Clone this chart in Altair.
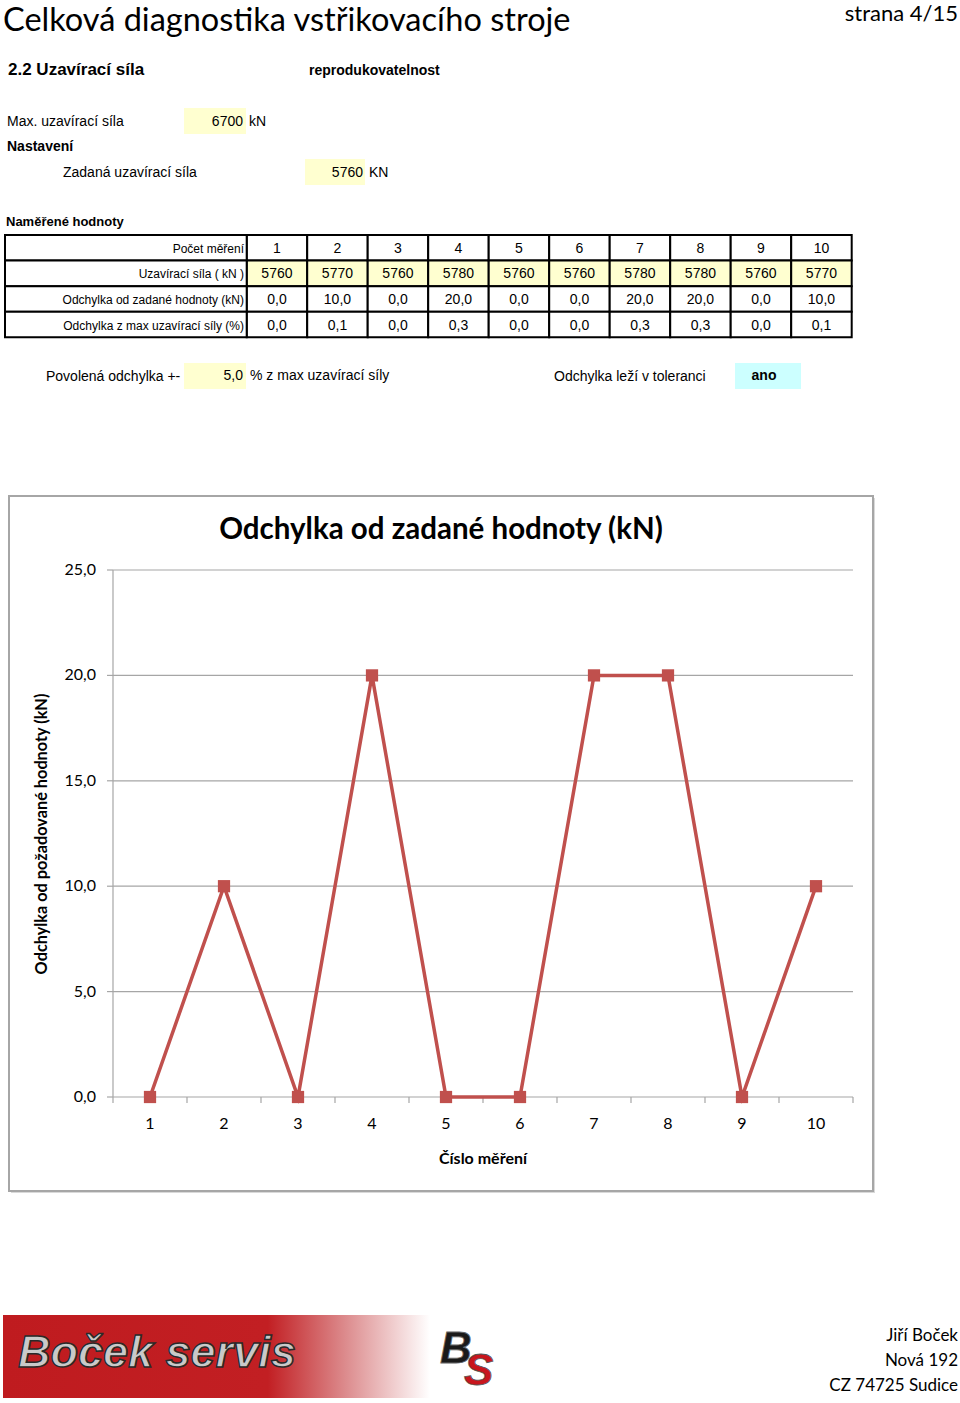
import altair as alt
import pandas as pd

# ---------------- data ----------------
measure_no = [1, 2, 3, 4, 5, 6, 7, 8, 9, 10]
force_kn = [5760, 5770, 5760, 5780, 5760, 5760, 5780, 5780, 5760, 5770]
dev_kn = [0.0, 10.0, 0.0, 20.0, 0.0, 0.0, 20.0, 20.0, 0.0, 10.0]
dev_pct = [0.0, 0.1, 0.0, 0.3, 0.0, 0.0, 0.3, 0.3, 0.0, 0.1]
row_labels = ["Počet měření", "Uzavírací síla ( kN )",
              "Odchylka od zadané hodnoty (kN)", "Odchylka z max uzavírací síly (%)"]
y_ticks = [0, 5, 10, 15, 20, 25]
x_bounds = [0.5, 1.5, 2.5, 3.5, 4.5, 5.5, 6.5, 7.5, 8.5, 9.5, 10.5]


def cz(v, d=1):
    return f"{v:.{d}f}".replace(".", ",")


ARIAL = "Liberation Sans"
NARROW = "Liberation Sans Narrow, Liberation Sans"
CALIBRI = "Lato"
one = alt.Data(values=[{}])


def txt(s, x, y, size=13, font=NARROW, weight="normal", align="left", color="#000",
        baseline="middle", **kw):
    return alt.Chart(one).mark_text(text=s, align=align, baseline=baseline, fontSize=size,
                                    font=font, fontWeight=weight, color=color, **kw).encode(
        x=alt.value(x), y=alt.value(y))


def box(x1, x2, y1, y2, fill, **kw):
    return alt.Chart(one).mark_rect(fill=fill, **kw).encode(
        x=alt.value(x1), x2=alt.value(x2), y=alt.value(y1), y2=alt.value(y2))


# ---------------- header ----------------
page = [
    txt("Celková diagnostika vstřikovacího stroje", 3, 31, size=32.5, font=CALIBRI,
        baseline="alphabetic"),
    txt("strana 4/15", 958, 21, size=22, font=CALIBRI, align="right", baseline="alphabetic"),
    txt("2.2 Uzavírací síla", 8, 70, size=17, weight="bold"),
    txt("reprodukovatelnost", 309, 71, size=14, weight="bold"),
    box(184, 246, 108, 134, "#ffffd0"),
    txt("Max. uzavírací síla", 7, 122, size=14),
    txt("6700", 243, 122, size=14, align="right"),
    txt("kN", 249, 122, size=14),
    txt("Nastavení", 7, 147, size=14, weight="bold"),
    box(305, 365, 159, 185, "#ffffd0"),
    txt("Zadaná uzavírací síla", 63, 173, size=14),
    txt("5760", 363, 173, size=14, align="right"),
    txt("KN", 369, 173, size=14),
    txt("Naměřené hodnoty", 6, 222, size=13, font=ARIAL, weight="bold"),
    box(184, 246, 363, 389, "#ffffd0"),
    txt("Povolená odchylka +-", 46, 377, size=14),
    txt(cz(5.0), 243, 376, size=14, align="right"),
    txt("% z max uzavírací síly", 250, 376, size=14),
    txt("Odchylka leží v toleranci", 554, 377, size=14),
    box(735, 801, 363, 389, "#ccffff"),
    txt("ano", 764, 376, size=14, weight="bold", align="center"),
]

# ---------------- table ----------------
rows = []
for i, n in enumerate(measure_no):
    rows.append({"c": n, "r": 0, "t": str(n), "fill": "white"})
    rows.append({"c": n, "r": 1, "t": str(force_kn[i]), "fill": "#ffffd0"})
    rows.append({"c": n, "r": 2, "t": cz(dev_kn[i]), "fill": "white"})
    rows.append({"c": n, "r": 3, "t": cz(dev_pct[i]), "fill": "white"})
cells = pd.DataFrame(rows)
labels = pd.DataFrame({"r": [0, 1, 2, 3], "t": row_labels})

tx = alt.X("c:O", axis=None, scale=alt.Scale(type="band", domain=measure_no,
                                               range=[246.7, 851.7], paddingInner=0, paddingOuter=0))
ty = alt.Y("r:O", axis=None, scale=alt.Scale(type="band", domain=[0, 1, 2, 3],
                                               range=[235, 337.3], paddingInner=0, paddingOuter=0))

table = alt.layer(
    alt.Chart(cells).mark_rect(stroke="#000", strokeWidth=2).encode(
        x=tx, y=ty, fill=alt.Fill("fill:N", scale=None)),
    alt.Chart(labels).mark_rect(stroke="#000", strokeWidth=2, fill="white").encode(
        x=alt.value(5), x2=alt.value(246.7), y=ty),
    alt.Chart(cells).mark_text(fontSize=14, font=ARIAL, baseline="middle", dy=1).encode(
        x=tx, y=ty, text="t:N"),
    alt.Chart(labels).mark_text(fontSize=12, font=ARIAL, align="right", baseline="middle",
                                dy=1).encode(x=alt.value(244), y=ty, text="t:N"),
)

# ---------------- chart ----------------
series = pd.DataFrame({"n": measure_no, "dev": dev_kn})
ticks = pd.DataFrame({"dev": y_ticks, "lab": [cz(v) for v in y_ticks]})
bounds = pd.DataFrame({"n": x_bounds})

cx = alt.Scale(domain=[0.5, 10.5], range=[113, 853])
cy = alt.Scale(domain=[0, 25], range=[1097, 570])
X = alt.X("n:Q", axis=None, scale=cx)
Y = alt.Y("dev:Q", axis=None, scale=cy)
RED = "#c0504d"

chart = alt.layer(
    alt.Chart(ticks).mark_rule(color="#a6a6a6", strokeWidth=1.2).encode(
        y=Y, x=alt.value(113), x2=alt.value(853)),
    alt.Chart(ticks).mark_rule(color="#a6a6a6", strokeWidth=1.2).encode(
        y=Y, x=alt.value(107), x2=alt.value(113)),
    alt.Chart(bounds).mark_rule(color="#a6a6a6", strokeWidth=1.2).encode(
        x=X, y=alt.value(1097), y2=alt.value(1103)),
    alt.Chart(ticks).mark_rule(color="#a6a6a6", strokeWidth=1.2).encode(
        x=alt.value(113), y=alt.Y("min(dev):Q", axis=None, scale=cy),
        y2=alt.Y2("max(dev):Q")),
    alt.Chart(series).mark_line(color=RED, strokeWidth=3.5).encode(x=X, y=Y),
    alt.Chart(series).mark_point(shape="square", filled=True, size=150, color=RED,
                                 opacity=1).encode(x=X, y=Y),
    alt.Chart(series).mark_text(fontSize=16, font=CALIBRI, baseline="middle").encode(
        x=X, y=alt.value(1124), text="n:N"),
    alt.Chart(ticks).mark_text(fontSize=16, font=CALIBRI, align="right",
                               baseline="middle").encode(x=alt.value(96), y=Y, text="lab:N"),
)

frame = [
    box(11, 875, 498, 1193, "#d9d9d9"),
    box(9, 873, 496, 1191, "white", stroke="#a6a6a6", strokeWidth=2),
]
chart_text = [
    txt("Odchylka od zadané hodnoty (kN)", 441, 530, size=29.5, font=CALIBRI, weight="bold",
        align="center"),
    txt("Číslo měření", 483, 1159, size=16, font=CALIBRI, weight="bold", align="center"),
    txt("Odchylka od požadované hodnoty (kN)", 42, 834, size=16.3, font=CALIBRI,
        weight="bold", align="center", angle=270),
]

# ---------------- footer ----------------
grad = {"gradient": "linear", "x1": 0, "x2": 1, "y1": 0, "y2": 0,
        "stops": [{"offset": 0, "color": "#bf1b1f"},
                  {"offset": 0.62, "color": "#c21f23"},
                  {"offset": 0.80, "color": "#dc8a8c"},
                  {"offset": 1.0, "color": "#ffffff"}]}
footer = [
    alt.Chart(one).mark_rect(fill=grad).encode(
        x=alt.value(3), x2=alt.value(430), y=alt.value(1315), y2=alt.value(1398)),
    txt("Boček servis", 18, 1353, size=45, font=ARIAL, weight="bold", color="#c9c9c9",
        fontStyle="italic", stroke="#2a2a2a", strokeWidth=1.5),
    txt("B", 440, 1350, size=44, font=ARIAL, weight="bold", color="#1a1a1a",
        fontStyle="italic", stroke="#666", strokeWidth=0.8),
    txt("S", 464, 1372, size=44, font=ARIAL, weight="bold", color="#c8161d",
        fontStyle="italic", stroke="#555", strokeWidth=0.8),
    txt("Jiří Boček", 958, 1336, size=17, font=CALIBRI, align="right"),
    txt("Nová 192", 958, 1361, size=17, font=CALIBRI, align="right"),
    txt("CZ 74725 Sudice", 958, 1386, size=17, font=CALIBRI, align="right"),
]

final = alt.layer(*page, table, *frame, chart, *chart_text, *footer).resolve_scale(
    x="independent", y="independent").properties(
    width=960, height=1403, padding=0, autosize=alt.AutoSizeParams(type="none"),
    background="white").configure_view(stroke=None)

final.save("out.html", embed_options={"renderer": "svg", "actions": False})
